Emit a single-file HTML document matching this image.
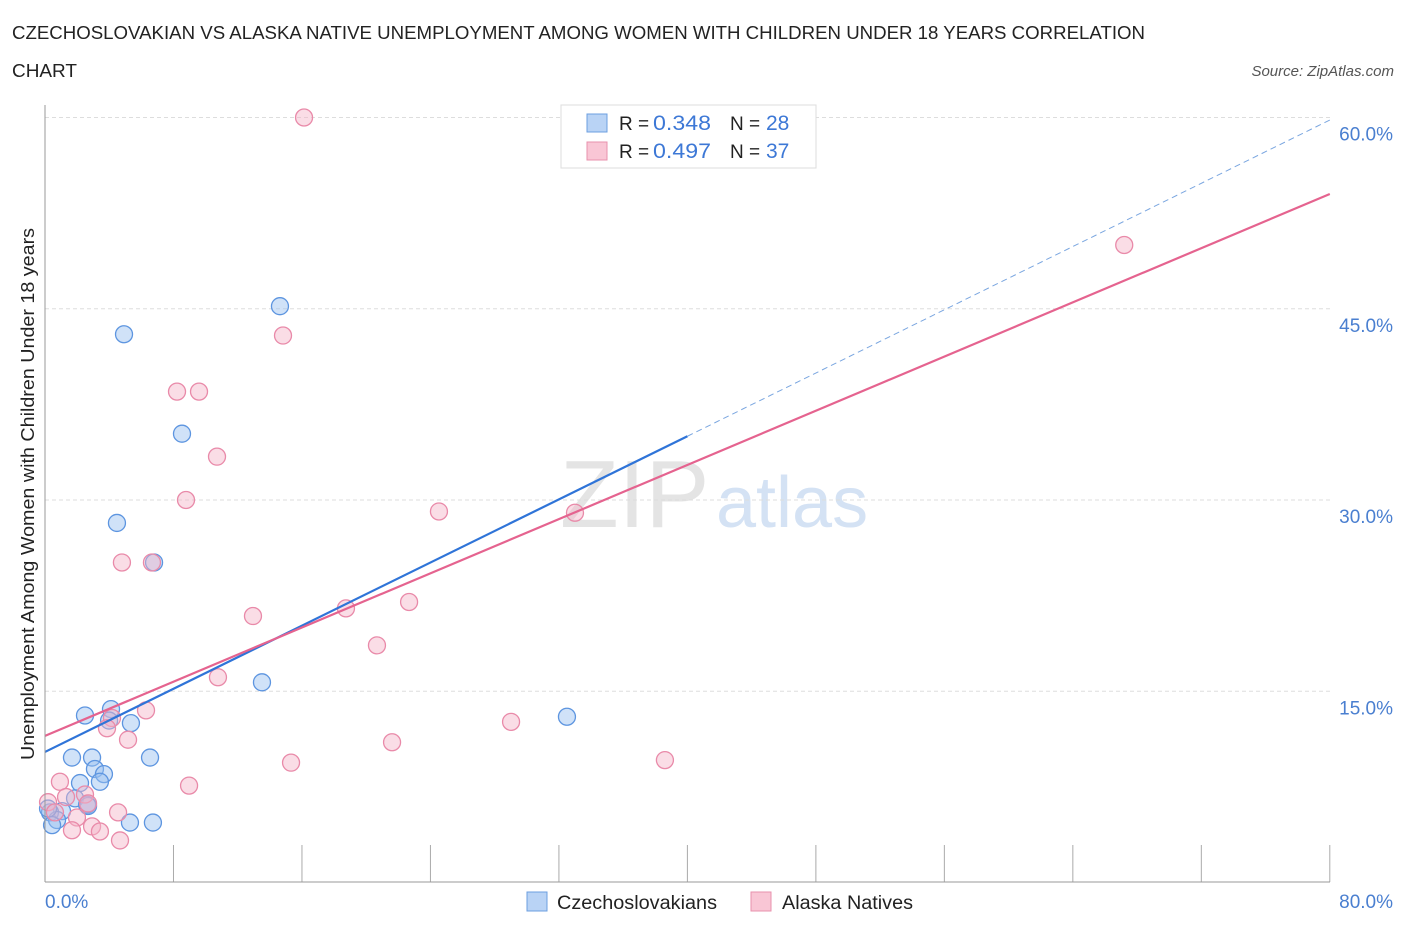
<!DOCTYPE html>
<html><head><meta charset="utf-8"><style>
body{margin:0;background:#fff;font-family:"Liberation Sans",sans-serif;}
svg text{font-family:"Liberation Sans",sans-serif;}
</style></head><body>
<svg width="1406" height="930" viewBox="0 0 1406 930" id="chart">
<text x="12" y="39" font-size="18" fill="#222" textLength="1133" lengthAdjust="spacingAndGlyphs">CZECHOSLOVAKIAN VS ALASKA NATIVE UNEMPLOYMENT AMONG WOMEN WITH CHILDREN UNDER 18 YEARS CORRELATION</text>
<text x="12" y="77" font-size="18" fill="#222" textLength="65" lengthAdjust="spacingAndGlyphs">CHART</text>
<text x="1394" y="76" font-size="15" font-style="italic" fill="#555" text-anchor="end">Source: ZipAtlas.com</text>
<text x="560" y="527" font-size="96" fill="#e4e4e4" font-family="Liberation Serif">ZIP</text>
<text x="716" y="527" font-size="72" fill="#d4e2f4">atlas</text>
<text transform="translate(34,494) rotate(-90)" font-size="18" fill="#222" text-anchor="middle" textLength="532" lengthAdjust="spacingAndGlyphs">Unemployment Among Women with Children Under 18 years</text>
<g id="grid"></g><g id="ticks"></g><g id="marks"></g><g id="trend"></g>
<line x1="45" y1="105" x2="45" y2="882" stroke="#999"/>
<line x1="45" y1="882" x2="1330" y2="882" stroke="#999"/>
<text x="45" y="908" font-size="19" fill="#4a7fd0">0.0%</text>
<text x="1393" y="908" font-size="19" fill="#4a7fd0" text-anchor="end">80.0%</text>
<g>
<rect x="561" y="105" width="255" height="63" fill="#fff" stroke="#ddd"/>
<rect x="587" y="114" width="20" height="18" fill="#b9d3f5" stroke="#6c9fe0"/>
<rect x="587" y="142" width="20" height="18" fill="#f9c6d5" stroke="#e891ad"/>
<text x="619" y="130" font-size="19" fill="#222">R =</text>
<text x="653" y="130" font-size="21" fill="#3d78d6" textLength="58" lengthAdjust="spacingAndGlyphs">0.348</text>
<text x="730" y="130" font-size="19" fill="#222">N =</text>
<text x="766" y="130" font-size="21" fill="#3d78d6">28</text>
<text x="619" y="158" font-size="19" fill="#222">R =</text>
<text x="653" y="158" font-size="21" fill="#3d78d6" textLength="58" lengthAdjust="spacingAndGlyphs">0.497</text>
<text x="730" y="158" font-size="19" fill="#222">N =</text>
<text x="766" y="158" font-size="21" fill="#3d78d6">37</text>
</g>
<g>
<rect x="527" y="892" width="20" height="19" fill="#b9d3f5" stroke="#6c9fe0"/>
<text x="557" y="909" font-size="19" fill="#222" textLength="160" lengthAdjust="spacingAndGlyphs">Czechoslovakians</text></g>
<g>
<rect x="751" y="892" width="20" height="19" fill="#f9c6d5" stroke="#e891ad"/>
<text x="782" y="909" font-size="19" fill="#222" textLength="131" lengthAdjust="spacingAndGlyphs">Alaska Natives</text></g>
</svg>
<script>
const yTicks=[15,30,45,60];
const yTickLabels=["15.0%","30.0%","45.0%","60.0%"];
const xTickVals=[0,8,16,24,32,40,48,56,64,72,80];
const blueX=[4.92,14.63,8.53,4.48,6.79,13.51,32.5,2.49,4.11,3.99,5.35,1.68,2.93,6.54,3.11,3.67,3.42,2.18,1.87,2.62,1.06,0.31,0.75,0.44,5.29,6.72,0.19,2.68];
const blueY=[43.0,45.2,35.2,28.2,25.1,15.7,13.0,13.1,13.6,12.7,12.5,9.8,9.8,9.8,8.9,8.5,7.9,7.8,6.6,6.1,5.6,5.5,4.9,4.5,4.7,4.7,5.8,6.0];
const pinkX=[16.13,67.2,14.82,8.22,9.59,10.71,8.78,24.53,33.0,4.79,6.66,12.95,18.74,22.67,20.67,10.77,6.29,4.17,3.86,5.17,21.61,29.02,38.6,15.32,8.97,0.93,2.49,1.31,0.19,0.62,1.99,2.93,3.42,1.68,4.67,4.55,2.68];
const pinkY=[60.0,50.0,42.9,38.5,38.5,33.4,30.0,29.1,29.0,25.1,25.1,20.9,21.5,22.0,18.6,16.1,13.5,12.9,12.1,11.2,11.0,12.6,9.6,9.4,7.6,7.9,6.9,6.7,6.3,5.5,5.1,4.4,4.0,4.1,3.3,5.5,6.2];
const blueTrend=[10.24,35.0,59.8]; // at x=0,40,80
const pinkTrend=[11.5,54.0]; // at x=0,80
const NS='http://www.w3.org/2000/svg';
function sx(v){return 45+v*16.06;}
function sy(v){return 882.5-v*12.75;}
function mk(tag,attrs,parent){const e=document.createElementNS(NS,tag);for(const k in attrs)e.setAttribute(k,attrs[k]);document.getElementById(parent).appendChild(e);return e;}
yTicks.forEach((t,i)=>{
 const l=mk('line',{x1:45,x2:1330,y1:sy(t),y2:sy(t),stroke:'#ddd','stroke-dasharray':'4,3'},'grid');
 
 
 const tx=mk('text',{x:1393,y:sy(t)+23,'font-size':19,fill:'#4a7fd0','text-anchor':'end'},'grid');
 tx.textContent=yTickLabels[i];
 
 
});
xTickVals.forEach(t=>{
 const l=mk('line',{x1:sx(t),x2:sx(t),y1:845,y2:882,stroke:'#aaa'},'ticks');
 
 
});
blueX.forEach((x,i)=>{
 const c=mk('circle',{cx:sx(x),cy:sy(blueY[i]),r:8.5,fill:'rgba(150,190,240,0.45)',stroke:'#5d95e0','stroke-width':1.3},'marks');
 
 
});
pinkX.forEach((x,i)=>{
 const c=mk('circle',{cx:sx(x),cy:sy(pinkY[i]),r:8.5,fill:'rgba(245,180,200,0.45)',stroke:'#e98aa9','stroke-width':1.3},'marks');
 
 
});
let t1=mk('line',{x1:sx(0),y1:sy(blueTrend[0]),x2:sx(40),y2:sy(blueTrend[1]),stroke:'#2f74d8','stroke-width':2.2},'trend');


let t2=mk('line',{x1:sx(40),y1:sy(blueTrend[1]),x2:sx(80),y2:sy(blueTrend[2]),stroke:'#7aa6e0','stroke-width':1,'stroke-dasharray':'6,4'},'trend');


let t3=mk('line',{x1:sx(0),y1:sy(pinkTrend[0]),x2:sx(80),y2:sy(pinkTrend[1]),stroke:'#e5638f','stroke-width':2.2},'trend');


</script>
</body></html>
